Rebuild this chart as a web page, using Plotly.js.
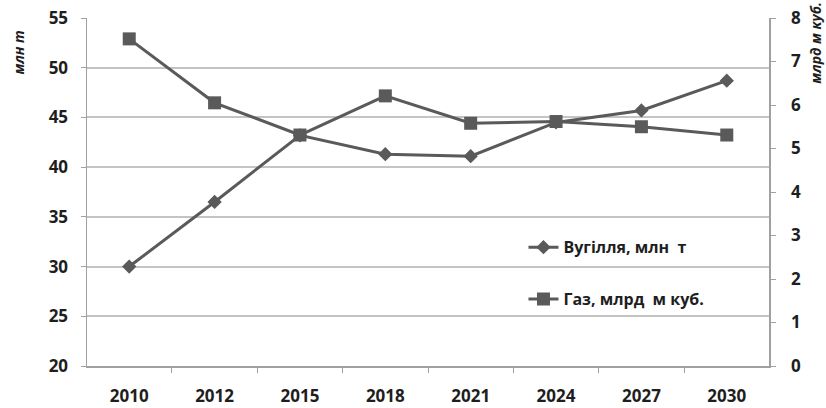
<!DOCTYPE html>
<html>
<head>
<meta charset="utf-8">
<script src="https://cdn.plot.ly/plotly-3.0.1.min.js"></script>
<style>
  html, body { margin: 0; padding: 0; background: #ffffff; }
  #chart { width: 826px; height: 408px; }
</style>
</head>
<body>
<div id="chart"></div>
<script>
// Years on the category axis
const years = ['2010', '2012', '2015', '2018', '2021', '2024', '2027', '2030'];
// Coal output, million tonnes (left axis)
const coal = [30.0, 36.5, 43.2, 41.3, 41.1, 44.5, 45.7, 48.7];
// Gas output, billion cubic metres (right axis)
const gas = [7.52, 6.05, 5.31, 6.21, 5.58, 5.62, 5.50, 5.31];

const coalName = 'Вугілля, млн  т';
const gasName = 'Газ, млрд  м куб.';
const leftTitle = 'млн т';
const rightTitle = 'млрд м куб.';

const ink = '#5a5a5a';
const family = 'Liberation Sans Narrow, Open Sans, sans-serif';
const font = { family: family, size: 17, color: '#1e1e1e', weight: 'bold' };

const traces = [
  {
    x: years, y: coal, name: coalName, type: 'scatter', mode: 'lines+markers',
    yaxis: 'y', legendgroup: 'a',
    line: { color: ink, width: 3 },
    marker: { symbol: 'diamond', size: 11, color: ink }
  },
  {
    x: years, y: gas, name: gasName, type: 'scatter', mode: 'lines+markers',
    yaxis: 'y2', legendgroup: 'b',
    line: { color: ink, width: 3 },
    marker: { symbol: 'square', size: 13, color: ink }
  }
];

const layout = {
  width: 826, height: 408,
  margin: { l: 87, r: 57, t: 18, b: 42 },
  paper_bgcolor: '#ffffff', plot_bgcolor: '#ffffff',
  font: font,
  showlegend: true,
  legend: {
    x: 0.64, y: 0.39, xanchor: 'left', yanchor: 'top',
    bgcolor: 'rgba(0,0,0,0)', tracegroupgap: 28,
    font: { family: family, size: 16, color: '#1e1e1e', weight: 'bold' },
    itemwidth: 30
  },
  xaxis: {
    type: 'category', tickson: 'boundaries', ticks: 'outside', ticklen: 5,
    tickcolor: '#a0a0a0', showline: true, linecolor: '#a0a0a0', linewidth: 1.5,
    showgrid: false, fixedrange: true, tickfont: font, ticklabelstandoff: 14
  },
  yaxis: {
    range: [20, 55], dtick: 5, ticks: 'outside', ticklen: 5, tickcolor: '#a0a0a0',
    showline: true, linecolor: '#a0a0a0', linewidth: 1.5,
    showgrid: true, gridcolor: '#c4c4c4', gridwidth: 2, zeroline: false,
    tickfont: font, ticklabelstandoff: 9
  },
  yaxis2: {
    range: [0, 8], dtick: 1, overlaying: 'y', side: 'right',
    ticks: 'outside', ticklen: 5, tickcolor: '#a0a0a0',
    showline: true, linecolor: '#a0a0a0', linewidth: 1.5,
    showgrid: false, zeroline: false, tickfont: font, ticklabelstandoff: 12
  },
  annotations: [
    {
      text: '<i>' + leftTitle + '</i>', xref: 'paper', yref: 'paper',
      x: -0.1, y: 0.9, textangle: -90, showarrow: false,
      xanchor: 'center', yanchor: 'middle',
      font: { family: family, size: 14, color: '#1e1e1e', weight: 'bold' }
    },
    {
      text: '<i>' + rightTitle + '</i>', xref: 'paper', yref: 'paper',
      x: 1.068, y: 0.93, textangle: -90, showarrow: false,
      xanchor: 'center', yanchor: 'middle',
      font: { family: family, size: 14, color: '#1e1e1e', weight: 'bold' }
    }
  ]
};

Plotly.newPlot('chart', traces, layout, { displayModeBar: false, staticPlot: true });
</script>
</body>
</html>
